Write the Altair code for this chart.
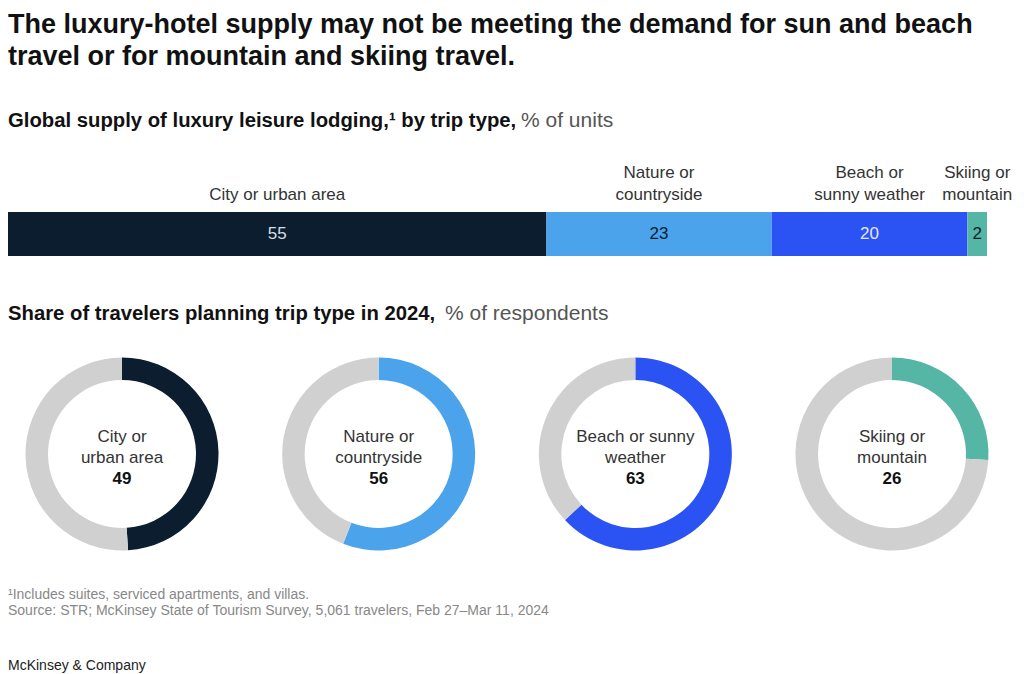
import altair as alt
import pandas as pd

# ---------------- data ----------------
trips = ["City or urban area", "Nature or countryside", "Beach or sunny weather", "Skiing or mountain"]
bar_top = ["", "Nature or", "Beach or", "Skiing or"]
bar_bottom = ["City or urban area", "countryside", "sunny weather", "mountain"]
donut_top = ["City or", "Nature or", "Beach or sunny", "Skiing or"]
donut_bottom = ["urban area", "countryside", "weather", "mountain"]
supply = [55, 23, 20, 2]          # % of units
planning = [49, 56, 63, 26]       # % of respondents

title_l1 = "The luxury-hotel supply may not be meeting the demand for sun and beach"
title_l2 = "travel or for mountain and skiing travel."
sub1_bold = "Global supply of luxury leisure lodging,\u00b9 by trip type,"
sub1_reg = "% of units"
sub2_bold = "Share of travelers planning trip type in 2024,"
sub2_reg = "% of respondents"
footnote = "\u00b9Includes suites, serviced apartments, and villas."
source = " Source: STR; McKinsey State of Tourism Survey, 5,061 travelers, Feb 27\u2013Mar 11, 2024"
brand = "McKinsey & Company"

# ---------------- style ----------------
colors = ["#0B1D2E", "#4BA3EC", "#2B53F4", "#55B6A5"]
value_text_colors = ["#D9DEE4", "#0B1D2E", "#E3E8FF", "#0B1D2E"]
rest_color = "#D0D0D0"
FONT = "Liberation Sans"
W, H = 1008, 666

df_bar = pd.DataFrame({"trip": trips, "top": bar_top, "bottom": bar_bottom,
                       "supply": supply, "idx": list(range(4))})
df_d = pd.DataFrame({"trip": trips, "top": donut_top, "bottom": donut_bottom, "share": planning})


def txt(s):
    return alt.Chart(pd.DataFrame({"t": [s]}))


# ---------------- bar ----------------
base_bar = alt.Chart(df_bar).transform_window(
    cum="sum(supply)", sort=[alt.SortField("idx")], frame=[None, 0]
).transform_calculate(
    start="datum.cum - datum.supply", mid="datum.cum - datum.supply / 2"
)
xs = alt.Scale(domain=[0, 100], range=[0, 979])

bars = base_bar.mark_bar().encode(
    x=alt.X("start:Q", scale=xs, axis=None),
    x2="cum:Q",
    y=alt.value(204), y2=alt.value(248),
    color=alt.Color("trip:N", scale=alt.Scale(domain=trips, range=colors), legend=None),
)
bar_vals = base_bar.mark_text(font=FONT, fontSize=17, baseline="middle").encode(
    x=alt.X("mid:Q", scale=xs, axis=None),
    y=alt.value(226),
    text="supply:Q",
    color=alt.Color("trip:N", scale=alt.Scale(domain=trips, range=value_text_colors), legend=None),
)
bar_cat_b = base_bar.mark_text(font=FONT, fontSize=17, baseline="middle", color="#333333").encode(
    x=alt.X("mid:Q", scale=xs, axis=None), y=alt.value(187), text="bottom:N")
bar_cat_t = base_bar.mark_text(font=FONT, fontSize=17, baseline="middle", color="#333333").encode(
    x=alt.X("mid:Q", scale=xs, axis=None), y=alt.value(165), text="top:N")

# ---------------- donuts ----------------
px = alt.Scale(type="point", domain=trips, range=[114, 884], padding=0)
base_d = alt.Chart(df_d)
arcs = base_d.transform_calculate(rest="100 - datum.share").transform_fold(
    ["share", "rest"], as_=["part", "v"]
).transform_calculate(
    t0="datum.part == 'share' ? 0 : datum.share",
    t1="datum.part == 'share' ? datum.share : 100",
    ckey="datum.part == 'share' ? datum.trip : 'rest'",
).mark_arc(innerRadius=74, outerRadius=96.5).encode(
    x=alt.X("trip:N", scale=px, axis=None),
    y=alt.value(446),
    theta=alt.Theta("t0:Q", scale=alt.Scale(domain=[0, 100], range=[0, 6.283185307179586]), stack=None),
    theta2="t1:Q",
    color=alt.Color("ckey:N", scale=alt.Scale(domain=trips + ["rest"], range=colors + [rest_color]), legend=None),
)
d_top = base_d.mark_text(font=FONT, fontSize=17, baseline="middle", color="#333333").encode(
    x=alt.X("trip:N", scale=px, axis=None), y=alt.value(429), text="top:N")
d_bot = base_d.mark_text(font=FONT, fontSize=17, baseline="middle", color="#333333").encode(
    x=alt.X("trip:N", scale=px, axis=None), y=alt.value(450), text="bottom:N")
d_num = base_d.mark_text(font=FONT, fontSize=17, fontWeight="bold", baseline="middle",
                         color="#111111").encode(
    x=alt.X("trip:N", scale=px, axis=None), y=alt.value(471), text="share:Q")


# ---------------- texts ----------------
def line(s, x, y, size, color, bold=False, baseline="alphabetic"):
    kw = dict(font=FONT, fontSize=size, align="left", baseline=baseline, color=color)
    if bold:
        kw["fontWeight"] = "bold"
    return txt(s).mark_text(**kw).encode(x=alt.value(x), y=alt.value(y), text="t:N")


layers = [
    line(title_l1, 0, 25, 27, "#111111", bold=True),
    line(title_l2, 0, 57, 27, "#111111", bold=True),
    line(sub1_bold, 0, 119, 20.3, "#111111", bold=True),
    line(sub1_reg, 513, 119, 21, "#555555"),
    line(sub2_bold, 0, 312, 20.3, "#111111", bold=True),
    line(sub2_reg, 437, 312, 21, "#555555"),
    line(footnote, 0, 587, 14, "#888888", baseline="middle"),
    line(source, 0, 603, 14, "#888888", baseline="middle"),
    line(brand, 0, 658, 14, "#222222", baseline="middle"),
]

chart = alt.layer(
    bars, bar_vals, bar_cat_b, bar_cat_t, arcs, d_top, d_bot, d_num, *layers
).resolve_scale(x="independent", color="independent").properties(
    width=W, height=H, padding=0, autosize=alt.AutoSizeParams(type="none")
).configure_view(stroke=None)

chart.save("out.html", embed_options={"renderer": "svg", "actions": False})
